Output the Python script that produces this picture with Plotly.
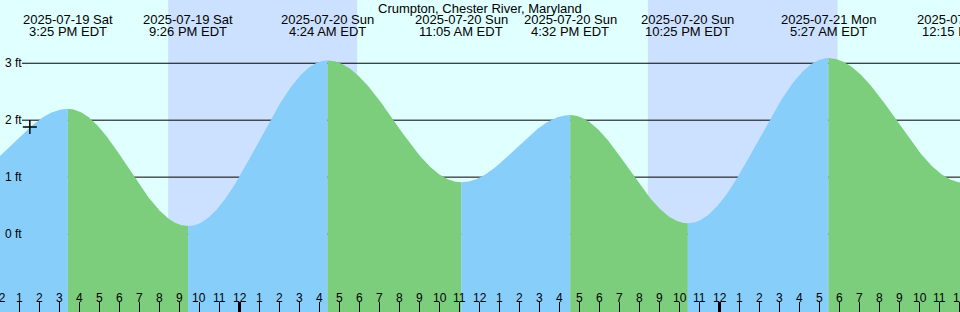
import numpy as np
import pandas as pd
import plotly.graph_objects as go

# ---------------- data ----------------
title = "Crumpton, Chester River, Maryland"
# tide extremes (first one is an estimated off-chart low before the view)
event_times = ["2025-07-19 10:00", "2025-07-19 15:25", "2025-07-19 21:26",
               "2025-07-20 04:24", "2025-07-20 11:05", "2025-07-20 16:32",
               "2025-07-20 22:25", "2025-07-21 05:27", "2025-07-21 12:15"]
event_heights = [1.0, 2.2, 0.14, 3.05, 0.91, 2.09, 0.19, 3.09, 0.9]
label_times = event_times[1:]
label_dates = ["2025-07-19 Sat", "2025-07-19 Sat", "2025-07-20 Sun", "2025-07-20 Sun",
               "2025-07-20 Sun", "2025-07-20 Sun", "2025-07-21 Mon", "2025-07-21 Mon"]
label_clock = ["3:25 PM EDT", "9:26 PM EDT", "4:24 AM EDT", "11:05 AM EDT",
               "4:32 PM EDT", "10:25 PM EDT", "5:27 AM EDT", "12:15 PM EDT"]
night_starts = ["2025-07-19 20:26", "2025-07-20 20:25"]
night_ends = ["2025-07-20 05:53", "2025-07-21 05:54"]
now_time = "2025-07-19 13:31"
now_height = 1.88
height_ticks = [0, 1, 2, 3]
view_start = "2025-07-19 12:01:30"
view_end = "2025-07-21 12:01:30"

# ---------------- styling ----------------
DAY = "#e0ffff"
NIGHT = "#cce0ff"
FLOOD = "#87cefa"
EBB = "#7ccd7c"
FONT = "Liberation Sans, Arial, sans-serif"
W, H = 960, 312

origin = pd.Timestamp("2025-07-20 00:00")


def hrs(s):
    return (pd.Timestamp(s) - origin) / pd.Timedelta(hours=1)


t0, t1 = hrs(view_start), hrs(view_end)
y_lo, y_hi = -78 / 57, 234.3 / 57


def xpaper(t):
    return (t - t0) / (t1 - t0)


fig = go.Figure()

# tide curve segments (cosine shape between successive extremes)
ts = [hrs(s) for s in event_times]
for i in range(len(ts) - 1):
    u = np.linspace(0, 1, 240)
    tt = ts[i] + (ts[i + 1] - ts[i]) * u
    hh = event_heights[i] + (event_heights[i + 1] - event_heights[i]) * (1 - np.cos(np.pi * u)) / 2
    color = FLOOD if event_heights[i + 1] > event_heights[i] else EBB
    xs = list(tt) + [ts[i + 1], ts[i]]
    ys = list(hh) + [y_lo - 1, y_lo - 1]
    fig.add_trace(go.Scatter(x=xs, y=ys, mode="lines", fill="toself", fillcolor=color,
                             line=dict(width=0, color=color), hoverinfo="skip",
                             showlegend=False))

# current-time marker
fig.add_trace(go.Scatter(x=[hrs(now_time)], y=[now_height], mode="markers",
                         marker=dict(symbol="cross-thin", size=10,
                                     line=dict(width=1.5, color="black")),
                         showlegend=False, hoverinfo="skip"))

shapes = []
for a, b in zip(night_starts, night_ends):
    shapes.append(dict(type="rect", xref="x", yref="paper", x0=hrs(a), x1=hrs(b), y0=0, y1=1,
                       fillcolor=NIGHT, line=dict(width=0), layer="below"))
for v in height_ticks:
    shapes.append(dict(type="line", xref="paper", yref="y", x0=22 / W, x1=1, y0=v, y1=v,
                       line=dict(color="black", width=1), layer="below"))

annotations = []
for v in height_ticks:
    annotations.append(dict(xref="paper", yref="y", x=3 / W, y=v, xanchor="left",
                            yanchor="middle", text=f"{v} ft", showarrow=False,
                            font=dict(family=FONT, size=12, color="black")))

# hour ticks and labels
for h in range(int(np.floor(t0)), int(np.ceil(t1)) + 1):
    lab = str((h % 12) or 12)
    annotations.append(dict(xref="paper", yref="paper", x=xpaper(h), y=(H - 297.7) / H,
                            xanchor="center", yanchor="middle", text=lab, showarrow=False,
                            font=dict(family=FONT, size=12, color="black")))
    shapes.append(dict(type="line", xref="x", yref="paper", x0=h, x1=h, y0=0, y1=10 / H,
                       line=dict(color="black", width=3 if h % 24 == 0 else 1)))

# event labels
for t, d, c in zip(label_times, label_dates, label_clock):
    xp = xpaper(hrs(t))
    annotations.append(dict(xref="paper", yref="paper", x=xp, y=(H - 19.7) / H,
                            xanchor="center", yanchor="middle", text=d, showarrow=False,
                            font=dict(family=FONT, size=13, color="black")))
    annotations.append(dict(xref="paper", yref="paper", x=xp, y=(H - 31.3) / H,
                            xanchor="center", yanchor="middle", text=c, showarrow=False,
                            font=dict(family=FONT, size=13, color="black")))

annotations.append(dict(xref="paper", yref="paper", x=0.5, y=(H - 8) / H, xanchor="center",
                        yanchor="middle", text=title, showarrow=False,
                        font=dict(family=FONT, size=13, color="black")))

fig.update_layout(
    width=W, height=H, margin=dict(l=0, r=0, t=0, b=0),
    paper_bgcolor=DAY, plot_bgcolor=DAY,
    xaxis=dict(range=[t0, t1], visible=False, fixedrange=True),
    yaxis=dict(range=[y_lo, y_hi], visible=False, fixedrange=True),
    shapes=shapes, annotations=annotations, showlegend=False,
)

fig.write_html("out.html", config={"displayModeBar": False})
